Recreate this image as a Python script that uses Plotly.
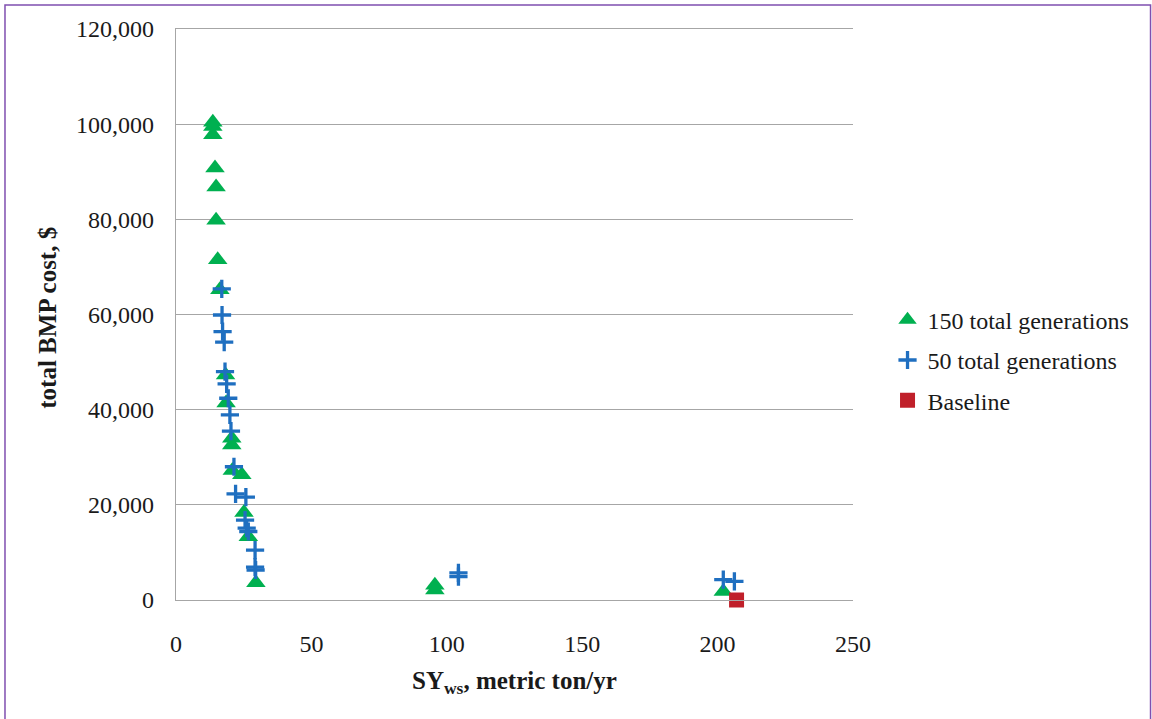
import plotly.graph_objects as go

# 150 total generations (green triangles)
g150_x = [13.6, 13.6, 13.6, 14.4, 14.8, 14.8, 15.4, 16.2, 18.3, 18.5, 20.6, 20.6, 20.8, 24.3, 25.1, 26.7, 29.5, 95.6, 95.6, 202.1]
g150_y = [100400, 99500, 97800, 90800, 86800, 79800, 71500, 65200, 47300, 41400, 34000, 32600, 27200, 26300, 18400, 13300, 3600, 3100, 2100, 1800]

# 50 total generations (blue crosses)
g50_x = [16.9, 17.0, 17.2, 17.8, 18.1, 18.7, 19.3, 19.9, 20.3, 21.4, 22.0, 25.8, 25.5, 26.1, 26.7, 29.2, 29.2, 29.4, 104.3, 104.3, 202.1, 206.2]
g50_y = [65400, 59900, 56400, 54200, 48000, 45400, 42400, 38900, 35500, 28000, 22300, 21600, 16800, 15100, 14400, 10500, 6900, 6300, 5700, 4900, 4300, 3900]

# Baseline (red square)
base_x = [207.0]
base_y = [0]

FONT = "Liberation Serif"
TXT = "#1a1a1a"

fig = go.Figure()
fig.add_trace(go.Scatter(
    x=g150_x, y=g150_y, mode="markers", name="150 total generations",
    legendgroup="a", cliponaxis=False,
    marker=dict(symbol="triangle-up", size=17, color="#00B050", line=dict(width=0)),
))
fig.add_trace(go.Scatter(
    x=g50_x, y=g50_y, mode="markers", name="50 total generations",
    legendgroup="b", cliponaxis=False,
    marker=dict(symbol="cross-thin", size=13, color="#1F6FC0", line=dict(width=3.3, color="#1F6FC0")),
))
fig.add_trace(go.Scatter(
    x=base_x, y=base_y, mode="markers", name="Baseline",
    legendgroup="c", cliponaxis=False,
    marker=dict(symbol="square", size=15, color="#C0202A", line=dict(width=0)),
))

fig.update_layout(
    width=1152, height=719,
    margin=dict(l=176, r=299, t=29, b=119),
    paper_bgcolor="white", plot_bgcolor="white",
    font=dict(family=FONT, size=24, color=TXT),
    showlegend=True,
    legend=dict(x=1.051, y=0.42, xanchor="left", yanchor="middle",
                font=dict(family=FONT, size=24, color=TXT),
                tracegroupgap=6, itemwidth=30, bgcolor="rgba(0,0,0,0)"),
    xaxis=dict(range=[0, 250], dtick=50, tick0=0, showgrid=False, zeroline=False,
               showline=True, mirror=True, linecolor="#A6A6A6", linewidth=1.3,
               ticks="", ticklabelstandoff=22,
               tickfont=dict(family=FONT, size=24, color=TXT)),
    yaxis=dict(range=[0, 120000], dtick=20000, tick0=0, tickformat=",",
               showgrid=True, gridcolor="#A6A6A6", gridwidth=1.3, zeroline=False,
               showline=True, linecolor="#A6A6A6", linewidth=1.3, ticks="",
               ticklabelstandoff=16,
               tickfont=dict(family=FONT, size=24, color=TXT)),
    annotations=[
        dict(text="<b>SY<sub>ws</sub>, metric ton/yr</b>", xref="paper", yref="paper",
             x=0.5, y=-0.145, xanchor="center", yanchor="middle", showarrow=False,
             font=dict(family=FONT, size=25, color=TXT)),
        dict(text="<b>total BMP cost, $</b>", xref="paper", yref="paper",
             x=-0.19, y=0.495, xanchor="center", yanchor="middle", showarrow=False,
             textangle=-90, font=dict(family=FONT, size=25, color=TXT)),
    ],
    shapes=[
        dict(type="rect", xref="paper", yref="paper",
             x0=-0.2526, x1=1.4395, y0=-0.25, y1=1.042,
             line=dict(color="#7F4FB0", width=1.5), layer="below"),
    ],
)

fig.write_html("out.html", config={"displayModeBar": False},
               post_script="document.body.style.margin='0';")
